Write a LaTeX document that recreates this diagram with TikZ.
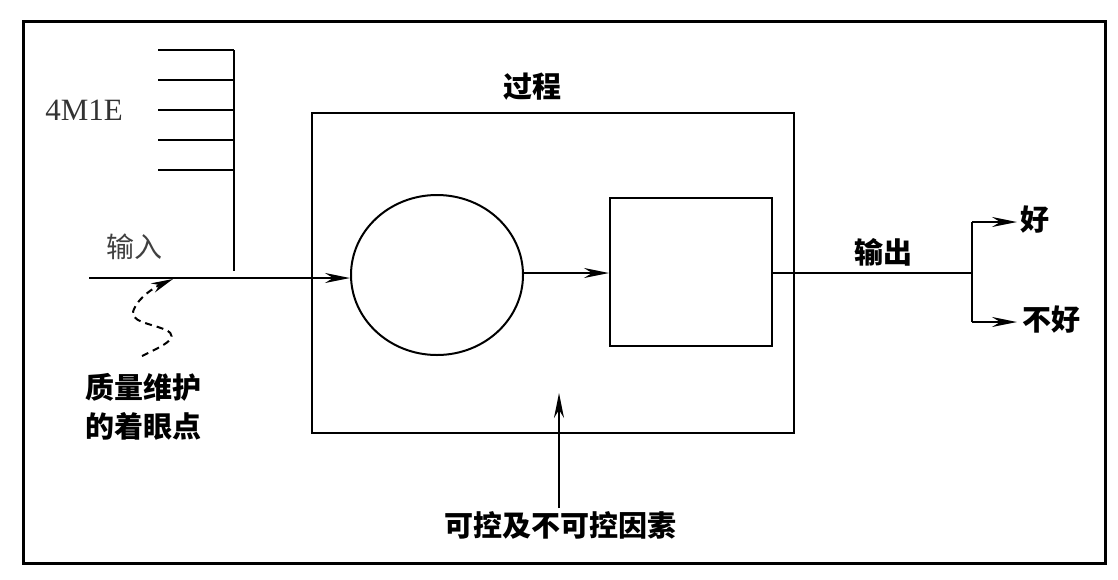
\documentclass[tikz,border=0pt]{standalone}
\usepackage{fontspec}
\setmainfont{Liberation Serif}
\newfontfamily\cjk{Noto Sans CJK SC}
\usetikzlibrary{arrows.meta,shapes.geometric}
\tikzset{
  boxline/.style={draw, line width=2.2pt, inner sep=0pt, anchor=north west},
  conn/.style={line width=2pt},
  arr/.style={line width=1.7pt, -{Stealth[length=25pt,width=10pt]}},
  lbl/.style={font=\cjk\bfseries\fontsize{29}{36}\selectfont, inner sep=0pt},
  lbllight/.style={font=\cjk\fontsize{28}{34}\selectfont, text=black!75, inner sep=0pt},
}
\begin{document}
\begin{tikzpicture}[x=1pt,y=-1pt]
\useasboundingbox (0,0) rectangle (1118,579);
% outer frame
\node[boxline, line width=2.6pt, minimum width=1082pt, minimum height=542pt] (frame) at (22,20) {};
% process box
\node[boxline, minimum width=482pt, minimum height=320pt] (proc) at (311,112) {};
\node[lbl] (proclbl) at (532,87) {过程};
% circle and square
\node[ellipse, draw, line width=2pt, minimum width=172pt, minimum height=160pt, inner sep=0pt] (circ) at (437,275) {};
\node[boxline, line width=2pt, minimum width=162pt, minimum height=148pt] (sq) at (609,197) {};
\coordinate (ce) at (523,273);
\draw[arr] (ce) -- (ce -| sq.west);
% comb (4M1E)
\coordinate (combT) at (234,50);
\coordinate (combB) at (234,271);
\draw[conn] (combT) -- (combB);
\foreach \yy in {50,80,110,140,170}{
  \draw[conn] (158,\yy) -- (234,\yy);
}
\node[font=\fontsize{31}{34}\selectfont, text=black!80, inner sep=0pt] (fourm) at (84,110) {4M1E};
% input
\coordinate (inS) at (89,278);
\draw[arr] (inS) -- (inS -| circ.west);
\node[lbllight] (inlbl) at (134,247) {输入};
% dashed wavy arrow
\coordinate (wavS) at (142,356);
\coordinate (wavE) at (173,279);
\draw[line width=2pt, dash pattern=on 7pt off 5pt, -{Stealth[length=22pt,width=10pt]}]
  (wavS) .. controls (160,347) and (182,338) .. (166,330)
  .. controls (150,323) and (128,322) .. (134,309)
  .. controls (139,297) and (155,287) .. (wavE);
\node[lbl, align=center] (quality) at (143,407) {质量维护\\[3pt]的着眼点};
% output
\coordinate (br) at (972,273);
\coordinate (brT) at (972,222);
\coordinate (brB) at (972,322);
\draw[line width=2.2pt] (sq.east |- br) -- (br);
\draw[line width=2.2pt] (brT) -- (brB);
\node[lbl, anchor=west] (good) at (1020,220) {好};
\node[lbl, anchor=west] (bad) at (1022,320) {不好};
\draw[arr] (brT) -- ([xshift=-3pt]good.west |- brT);
\draw[arr] (brB) -- ([xshift=-5pt]bad.west |- brB);
\node[lbl] (outlbl) at (883,252) {输出};
% controllable factors
\node[lbl] (factors) at (560,525) {可控及不可控因素};
\coordinate (fS) at (559,508);
\coordinate (fE) at (559,393);
\draw[arr] (fS) -- (fE);
\end{tikzpicture}
\end{document}
